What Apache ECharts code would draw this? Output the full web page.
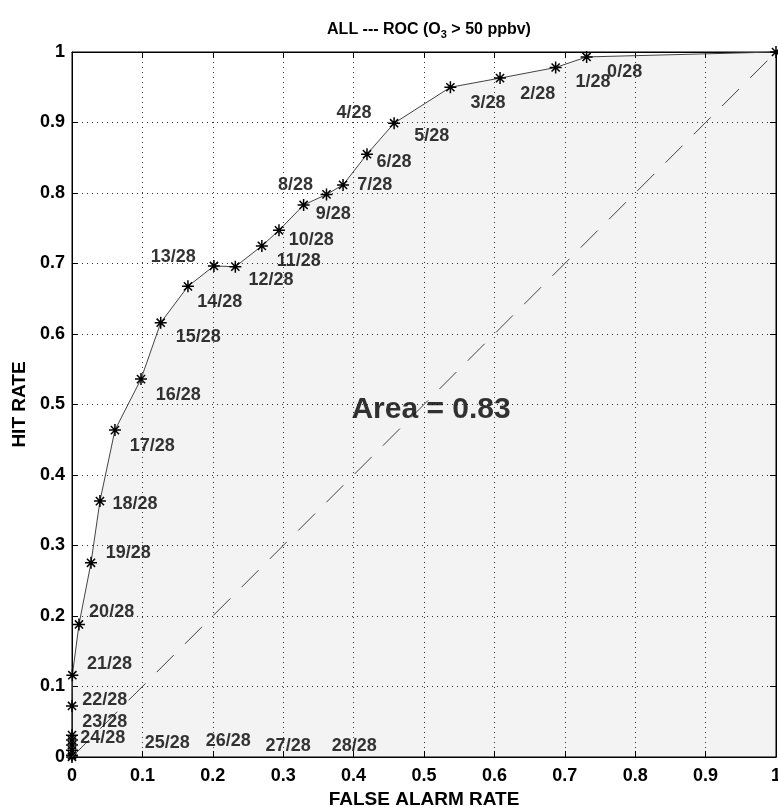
<!DOCTYPE html>
<html>
<head>
<meta charset="utf-8">
<script src="https://cdn.jsdelivr.net/npm/echarts@6/dist/echarts.min.js"></script>
<style>
html,body{margin:0;padding:0;background:#fff;}
#myChart{width:778px;height:807px;}
</style>
</head>
<body>
<div id="myChart"></div>
<script type="text/javascript">
// ROC curve points (false alarm rate, hit rate), ascending
var falseAlarm = [0, 0, 0, 0, 0, 0, 0, 0.0005, 0.0099, 0.027, 0.0397, 0.061, 0.098, 0.126, 0.1647,
    0.2016, 0.232, 0.2697, 0.294, 0.329, 0.3615, 0.385, 0.419, 0.4575, 0.5375, 0.608, 0.687, 0.731, 1];
var hitRate = [0, 0.0024, 0.0095, 0.017, 0.024, 0.031, 0.0724, 0.116, 0.188, 0.2755, 0.363, 0.4637, 0.536,
    0.616, 0.6676, 0.6965, 0.6955, 0.725, 0.747, 0.783, 0.798, 0.8115, 0.855, 0.899, 0.950, 0.963, 0.978, 0.993, 1];

// threshold labels 0/28 .. 28/28 and where they sit
var labelText = [];
for (var k = 0; k <= 28; k++) { labelText.push(k + '/28'); }
var labelX = [0.785, 0.740, 0.6615, 0.591, 0.4007, 0.511, 0.4575, 0.430, 0.3175, 0.371, 0.340, 0.322, 0.2827,
    0.1438, 0.210, 0.1793, 0.151, 0.114, 0.0894, 0.080, 0.0563, 0.0532, 0.0464, 0.0464, 0.0437, 0.1353, 0.222, 0.307, 0.401];
var labelY = [0.9715, 0.957, 0.941, 0.928, 0.913, 0.881, 0.8434, 0.8115, 0.8115, 0.770, 0.7334, 0.7033, 0.6767,
    0.7086, 0.6447, 0.595, 0.514, 0.4413, 0.3584, 0.2887, 0.2058, 0.132, 0.0815, 0.0497, 0.0268, 0.020, 0.022, 0.0159, 0.0159];

var areaText = 'Area = 0.83';
var areaPos = [0.51, 0.492];
var diagX = [0, 1];
var diagY = [0, 1];

var FONT = '"Liberation Sans", Arial, sans-serif';

var curve = [];
for (var i = 0; i < falseAlarm.length; i++) { curve.push([falseAlarm[i], hitRate[i]]); }
var diag = [];
for (var j = 0; j < diagX.length; j++) { diag.push([diagX[j], diagY[j]]); }
var labs = [];
for (var m = 0; m < labelText.length; m++) { labs.push({ name: labelText[m], value: [labelX[m], labelY[m]] }); }

var star = 'path://M5,0L5,10M0,5L10,5M1.6,1.6L8.4,8.4M1.6,8.4L8.4,1.6';

var tickCommon = { show: true, inside: true, length: 6, lineStyle: { color: '#000', width: 1 } };
var lineCommon = { show: true, onZero: false, lineStyle: { color: '#000', width: 1 } };
var labelCommon = { fontFamily: FONT, fontWeight: 'bold', fontSize: 18, color: '#000' };

var option = {
    animation: false,
    backgroundColor: '#fff',
    title: {
        text: 'ALL --- ROC (O{sub|3} > 50 ppbv)',
        left: 424,
        textAlign: 'center',
        top: 15,
        textStyle: {
            fontFamily: FONT, fontWeight: 'bold', fontSize: 16, color: '#000',
            rich: { sub: { fontFamily: FONT, fontWeight: 'bold', fontSize: 11, verticalAlign: 'bottom', padding: [9, 0, 0, 0] } }
        }
    },
    grid: {
        left: 72, right: 2, top: 52, bottom: 50, containLabel: false, outerBoundsMode: 'none',
        show: true, backgroundColor: '#fff', borderColor: '#000', borderWidth: 1
    },
    xAxis: [{
        type: 'value', min: 0, max: 1, interval: 0.1,
        name: 'FALSE ALARM RATE', nameLocation: 'middle', nameGap: 31,
        nameTextStyle: { fontFamily: FONT, fontWeight: 'bold', fontSize: 19, color: '#000' },
        axisLine: lineCommon, axisTick: tickCommon,
        axisLabel: Object.assign({ margin: 10 }, labelCommon),
        splitLine: { show: true, lineStyle: { color: '#333', width: 1, type: [1, 4] } }
    }, {
        type: 'value', min: 0, max: 1, interval: 0.1, position: 'top',
        axisLine: lineCommon, axisTick: tickCommon, axisLabel: { show: false }, splitLine: { show: false }
    }],
    yAxis: [{
        type: 'value', min: 0, max: 1, interval: 0.1,
        name: 'HIT RATE', nameLocation: 'middle', nameGap: 40,
        nameTextStyle: { fontFamily: FONT, fontWeight: 'bold', fontSize: 19, color: '#000' },
        axisLine: lineCommon, axisTick: tickCommon,
        axisLabel: Object.assign({ margin: 7 }, labelCommon),
        splitLine: { show: true, lineStyle: { color: '#333', width: 1, type: [1, 4] } }
    }, {
        type: 'value', min: 0, max: 1, interval: 0.1, position: 'right',
        axisLine: lineCommon, axisTick: tickCommon, axisLabel: { show: false }, splitLine: { show: false }
    }],
    series: [
        {
            name: 'ROC', type: 'line', data: curve, clip: false,
            symbol: star, symbolSize: 12, showAllSymbol: true,
            itemStyle: { color: '#000', borderColor: '#000', borderWidth: 1.5 },
            lineStyle: { color: '#444', width: 1 },
            areaStyle: { color: 'rgba(0,0,0,0.065)', origin: 'start' },
            z: 2
        },
        {
            name: 'diag', type: 'line', data: diag, symbol: 'none',
            lineStyle: { color: '#444', width: 1, type: [24, 16] },
            z: 3
        },
        {
            name: 'labels', type: 'scatter', data: labs, symbolSize: 0, silent: true,
            label: { show: true, position: 'inside', formatter: '{b}', fontFamily: FONT, fontWeight: 'bold', fontSize: 18, color: '#000' },
            z: 4
        },
        {
            name: 'area', type: 'scatter', data: [{ name: areaText, value: areaPos }], symbolSize: 0, silent: true,
            label: { show: true, position: 'inside', formatter: '{b}', fontFamily: FONT, fontWeight: 'bold', fontSize: 30, color: '#000' },
            z: 4
        }
    ]
};

echarts.init(document.getElementById('myChart')).setOption(option);
</script>
</body>
</html>
